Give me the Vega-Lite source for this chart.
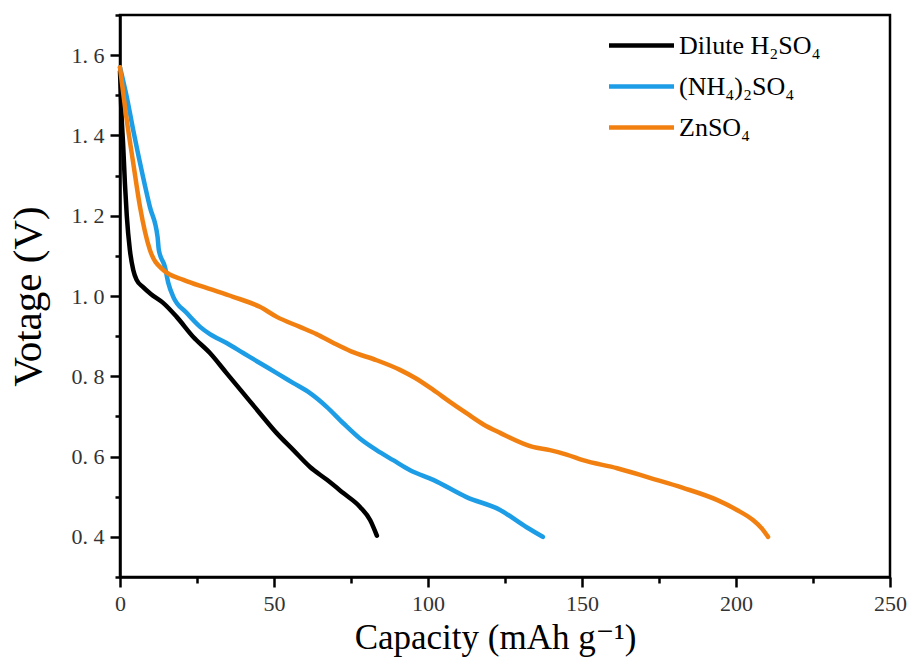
{
  "$schema": "https://vega.github.io/schema/vega-lite/v6.json",
  "width": 770,
  "height": 562,
  "autosize": "none",
  "padding": {"left": 120, "top": 15, "right": 22, "bottom": 87},
  "background": "white",
  "config": {
    "view": {"stroke": "black", "strokeWidth": 2.5},
    "font": "Liberation Serif, DejaVu Serif, serif"
  },
  "datasets": {
    "curves": [
      {"s": "Dilute H₂SO₄", "cap": 0, "v": 1.56},
      {"s": "Dilute H₂SO₄", "cap": 0.5, "v": 1.45},
      {"s": "Dilute H₂SO₄", "cap": 1, "v": 1.38},
      {"s": "Dilute H₂SO₄", "cap": 1.6, "v": 1.28},
      {"s": "Dilute H₂SO₄", "cap": 2.2, "v": 1.2},
      {"s": "Dilute H₂SO₄", "cap": 3.2, "v": 1.115},
      {"s": "Dilute H₂SO₄", "cap": 4.3, "v": 1.065},
      {"s": "Dilute H₂SO₄", "cap": 5.4, "v": 1.04},
      {"s": "Dilute H₂SO₄", "cap": 7.5, "v": 1.022},
      {"s": "Dilute H₂SO₄", "cap": 10, "v": 1.005},
      {"s": "Dilute H₂SO₄", "cap": 14, "v": 0.983},
      {"s": "Dilute H₂SO₄", "cap": 18.4, "v": 0.948},
      {"s": "Dilute H₂SO₄", "cap": 23.8, "v": 0.898},
      {"s": "Dilute H₂SO₄", "cap": 29.2, "v": 0.858},
      {"s": "Dilute H₂SO₄", "cap": 34.6, "v": 0.808},
      {"s": "Dilute H₂SO₄", "cap": 40, "v": 0.758},
      {"s": "Dilute H₂SO₄", "cap": 45.4, "v": 0.708},
      {"s": "Dilute H₂SO₄", "cap": 50.8, "v": 0.659},
      {"s": "Dilute H₂SO₄", "cap": 56.3, "v": 0.616},
      {"s": "Dilute H₂SO₄", "cap": 61.7, "v": 0.574},
      {"s": "Dilute H₂SO₄", "cap": 67.2, "v": 0.542},
      {"s": "Dilute H₂SO₄", "cap": 72.5, "v": 0.509},
      {"s": "Dilute H₂SO₄", "cap": 78, "v": 0.474},
      {"s": "Dilute H₂SO₄", "cap": 81.2, "v": 0.442},
      {"s": "Dilute H₂SO₄", "cap": 83.4, "v": 0.403},
      {"s": "(NH₄)₂SO₄", "cap": 0, "v": 1.57},
      {"s": "(NH₄)₂SO₄", "cap": 2.2, "v": 1.496},
      {"s": "(NH₄)₂SO₄", "cap": 4.3, "v": 1.413},
      {"s": "(NH₄)₂SO₄", "cap": 7.5, "v": 1.296},
      {"s": "(NH₄)₂SO₄", "cap": 9.7, "v": 1.222},
      {"s": "(NH₄)₂SO₄", "cap": 12.2, "v": 1.147},
      {"s": "(NH₄)₂SO₄", "cap": 12.6, "v": 1.115},
      {"s": "(NH₄)₂SO₄", "cap": 14.6, "v": 1.072},
      {"s": "(NH₄)₂SO₄", "cap": 15.7, "v": 1.032},
      {"s": "(NH₄)₂SO₄", "cap": 17.3, "v": 0.998},
      {"s": "(NH₄)₂SO₄", "cap": 21.6, "v": 0.958},
      {"s": "(NH₄)₂SO₄", "cap": 26, "v": 0.923},
      {"s": "(NH₄)₂SO₄", "cap": 29.2, "v": 0.905},
      {"s": "(NH₄)₂SO₄", "cap": 34.6, "v": 0.883},
      {"s": "(NH₄)₂SO₄", "cap": 40, "v": 0.858},
      {"s": "(NH₄)₂SO₄", "cap": 45.4, "v": 0.833},
      {"s": "(NH₄)₂SO₄", "cap": 50.9, "v": 0.808},
      {"s": "(NH₄)₂SO₄", "cap": 56.3, "v": 0.783},
      {"s": "(NH₄)₂SO₄", "cap": 61.7, "v": 0.758},
      {"s": "(NH₄)₂SO₄", "cap": 67.1, "v": 0.724},
      {"s": "(NH₄)₂SO₄", "cap": 72.5, "v": 0.683},
      {"s": "(NH₄)₂SO₄", "cap": 77.9, "v": 0.645},
      {"s": "(NH₄)₂SO₄", "cap": 83.3, "v": 0.616},
      {"s": "(NH₄)₂SO₄", "cap": 88.7, "v": 0.591},
      {"s": "(NH₄)₂SO₄", "cap": 94.2, "v": 0.566},
      {"s": "(NH₄)₂SO₄", "cap": 101.7, "v": 0.542},
      {"s": "(NH₄)₂SO₄", "cap": 112.5, "v": 0.499},
      {"s": "(NH₄)₂SO₄", "cap": 123.4, "v": 0.467},
      {"s": "(NH₄)₂SO₄", "cap": 132, "v": 0.424},
      {"s": "(NH₄)₂SO₄", "cap": 137.3, "v": 0.4},
      {"s": "ZnSO₄", "cap": 0, "v": 1.57},
      {"s": "ZnSO₄", "cap": 2.2, "v": 1.438},
      {"s": "ZnSO₄", "cap": 4.3, "v": 1.331},
      {"s": "ZnSO₄", "cap": 6.5, "v": 1.222},
      {"s": "ZnSO₄", "cap": 9.7, "v": 1.115},
      {"s": "ZnSO₄", "cap": 14, "v": 1.065},
      {"s": "ZnSO₄", "cap": 20.6, "v": 1.04},
      {"s": "ZnSO₄", "cap": 28.1, "v": 1.02},
      {"s": "ZnSO₄", "cap": 36.7, "v": 0.998},
      {"s": "ZnSO₄", "cap": 45.4, "v": 0.973},
      {"s": "ZnSO₄", "cap": 50.9, "v": 0.948},
      {"s": "ZnSO₄", "cap": 58.4, "v": 0.923},
      {"s": "ZnSO₄", "cap": 63.8, "v": 0.905},
      {"s": "ZnSO₄", "cap": 69.3, "v": 0.883},
      {"s": "ZnSO₄", "cap": 75, "v": 0.862},
      {"s": "ZnSO₄", "cap": 83.3, "v": 0.84},
      {"s": "ZnSO₄", "cap": 90.9, "v": 0.816},
      {"s": "ZnSO₄", "cap": 96, "v": 0.795},
      {"s": "ZnSO₄", "cap": 101.7, "v": 0.766},
      {"s": "ZnSO₄", "cap": 107, "v": 0.737},
      {"s": "ZnSO₄", "cap": 112.5, "v": 0.708},
      {"s": "ZnSO₄", "cap": 118, "v": 0.68},
      {"s": "ZnSO₄", "cap": 123.4, "v": 0.659},
      {"s": "ZnSO₄", "cap": 134, "v": 0.624},
      {"s": "ZnSO₄", "cap": 139.6, "v": 0.616},
      {"s": "ZnSO₄", "cap": 145, "v": 0.605},
      {"s": "ZnSO₄", "cap": 150.3, "v": 0.591},
      {"s": "ZnSO₄", "cap": 161.4, "v": 0.571},
      {"s": "ZnSO₄", "cap": 172, "v": 0.547},
      {"s": "ZnSO₄", "cap": 182.8, "v": 0.522},
      {"s": "ZnSO₄", "cap": 193.8, "v": 0.492},
      {"s": "ZnSO₄", "cap": 200.3, "v": 0.467},
      {"s": "ZnSO₄", "cap": 205.5, "v": 0.442},
      {"s": "ZnSO₄", "cap": 208.5, "v": 0.42},
      {"s": "ZnSO₄", "cap": 210.4, "v": 0.4}
    ]
  },
  "data": {"name": "curves"},
  "mark": {"type": "line", "strokeWidth": 4.5, "interpolate": "monotone", "strokeCap": "round", "strokeJoin": "round"},
  "encoding": {
    "x": {
      "field": "cap",
      "type": "quantitative",
      "scale": {"domain": [0, 250], "nice": false, "zero": false},
      "axis": {
        "title": "Capacity (mAh g⁻¹)",
        "titleFont": "Liberation Serif, DejaVu Serif, serif",
        "titleFontSize": 35,
        "titleFontWeight": "normal",
        "titleColor": "black",
        "titlePadding": 6,
        "titleX": 375,
        "values": [0, 25, 50, 75, 100, 125, 150, 175, 200, 225, 250],
        "labelExpr": "datum.value % 50 === 0 ? datum.label : ''",
        "labelFont": "Liberation Serif, DejaVu Serif, serif",
        "labelFontSize": 22,
        "labelColor": "#333",
        "labelPadding": 6,
        "labelFlush": false,
        "grid": false,
        "domainColor": "black",
        "domainWidth": 2.5,
        "tickColor": "black",
        "tickWidth": 2.5,
        "tickSize": {"condition": {"test": "datum.value % 50 === 0", "value": 10}, "value": 6}
      }
    },
    "y": {
      "field": "v",
      "type": "quantitative",
      "scale": {"domain": [0.3, 1.7], "nice": false, "zero": false},
      "axis": {
        "title": "Votage (V)",
        "titleFont": "Liberation Serif, DejaVu Serif, serif",
        "titleFontSize": 41,
        "titleFontWeight": "normal",
        "titleColor": "black",
        "titlePadding": 22,
        "values": [0.3, 0.4, 0.5, 0.6, 0.7, 0.8, 0.9, 1.0, 1.1, 1.2, 1.3, 1.4, 1.5, 1.6, 1.7],
        "labelExpr": "(round(datum.value*10) % 2 === 0 && datum.value > 0.35 && datum.value < 1.65) ? replace(format(datum.value, '.1f'), '.', '. ') : ''",
        "labelFont": "Liberation Serif, DejaVu Serif, serif",
        "labelFontSize": 22,
        "labelColor": "#333",
        "labelPadding": 6,
        "grid": false,
        "domainColor": "black",
        "domainWidth": 2.5,
        "tickColor": "black",
        "tickWidth": 2.5,
        "tickSize": {"condition": {"test": "round(datum.value*10) % 2 === 0", "value": 10}, "value": 5}
      }
    },
    "color": {
      "field": "s",
      "type": "nominal",
      "scale": {
        "domain": ["Dilute H₂SO₄", "(NH₄)₂SO₄", "ZnSO₄"],
        "range": ["#000000", "#1C9DE6", "#F28011"]
      },
      "legend": {
        "orient": "none",
        "legendX": 506,
        "legendY": 15,
        "padding": 0,
        "title": null,
        "symbolType": "M-2.5,0H2.5",
        "symbolSize": 676,
        "symbolStrokeWidth": 4.5,
        "labelFont": "Liberation Serif, DejaVu Serif, serif",
        "labelFontSize": 26,
        "labelColor": "black",
        "labelOffset": 22,
        "rowPadding": 12,
        "labelLimit": 300
      }
    }
  }
}
